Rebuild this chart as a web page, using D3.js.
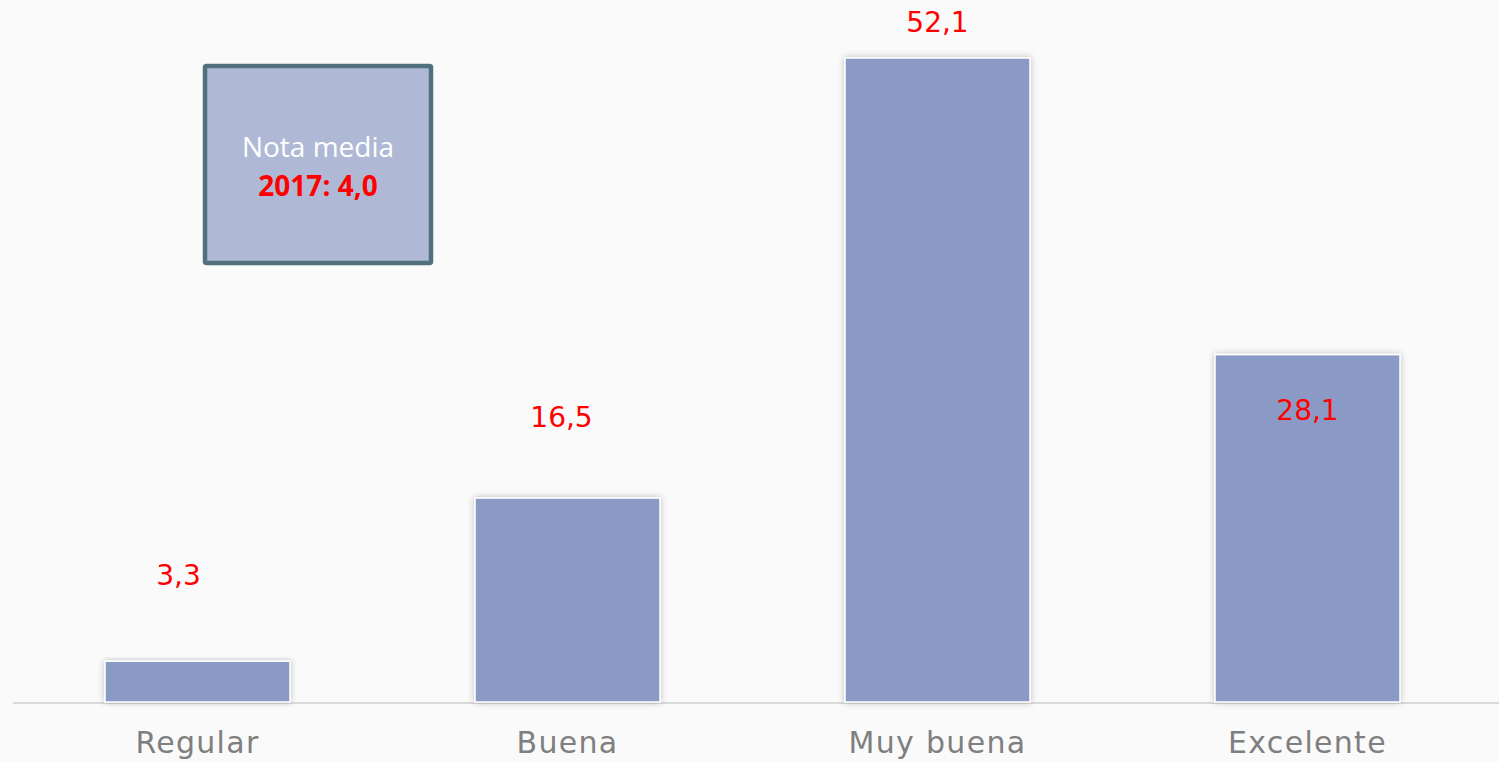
<!DOCTYPE html>
<html>
<head>
<meta charset="utf-8">
<script src="https://cdn.jsdelivr.net/npm/d3@7"></script>
<style>
  html, body { margin: 0; padding: 0; background: #fafafa; }
  svg { display: block; }
</style>
</head>
<body>
<svg id="chart" width="1499" height="762"></svg>
<script>
// Valoración: porcentaje de respuestas por categoría
const categories = ["Regular", "Buena", "Muy buena", "Excelente"];
const values = [3.3, 16.5, 52.1, 28.1];
const valueLabels = ["3,3", "16,5", "52,1", "28,1"];
const noteLines = ["Nota media", "2017: 4,0"];

// Desplazamiento de cada etiqueta respecto al centro/extremo de su barra
const labelOffset = {
  "Regular":   { dx: -19, dy: -86 },
  "Buena":     { dx: -6,  dy: -81 },
  "Muy buena": { dx: 0,   dy: -36 },
  "Excelente": { dx: 0,   dy: 56 }
};

const W = 1499, H = 762;
const svg = d3.select("#chart");

const x = d3.scaleBand().domain(categories).range([12.5, 1492.5])
  .paddingInner(0.5).paddingOuter(0.25);
const y = d3.scaleLinear().domain([0, 52.1]).range([702, 58]);

// sombra suave de las barras
const defs = svg.append("defs");
const f = defs.append("filter").attr("id", "shadow")
  .attr("x", "-10%").attr("y", "-10%").attr("width", "120%").attr("height", "120%");
f.append("feDropShadow").attr("dx", 0).attr("dy", 0).attr("stdDeviation", 3)
  .attr("flood-color", "#000").attr("flood-opacity", 0.25);

// eje base
svg.append("line")
  .attr("x1", 13).attr("x2", W).attr("y1", y(0) + 1).attr("y2", y(0) + 1)
  .attr("stroke", "#d9d9d9").attr("stroke-width", 2);

// barras
svg.append("g").selectAll("rect").data(categories).join("rect")
  .attr("x", d => x(d))
  .attr("y", (d, i) => y(values[i]))
  .attr("width", x.bandwidth())
  .attr("height", (d, i) => y(0) - y(values[i]))
  .attr("fill", "#8a9ac4")
  .attr("stroke", "#ffffff").attr("stroke-width", 1.5)
  .attr("filter", "url(#shadow)");

// etiquetas de valor
svg.append("g").selectAll("text").data(categories).join("text")
  .attr("x", d => x(d) + x.bandwidth() / 2 + labelOffset[d].dx)
  .attr("y", (d, i) => y(values[i]) + labelOffset[d].dy)
  .attr("text-anchor", "middle")
  .attr("dominant-baseline", "central")
  .attr("font-family", "'DejaVu Sans', sans-serif")
  .attr("font-size", 28)
  .attr("fill", "#ff0000")
  .text((d, i) => valueLabels[i]);

// etiquetas de categoría
svg.append("g").selectAll("text").data(categories).join("text")
  .attr("x", d => x(d) + x.bandwidth() / 2)
  .attr("y", 742)
  .attr("text-anchor", "middle")
  .attr("dominant-baseline", "central")
  .attr("font-family", "'DejaVu Sans', sans-serif")
  .attr("font-size", 30)
  .attr("letter-spacing", 1.3)
  .attr("fill", "#7f7f7f")
  .text(d => d);

// recuadro de nota media
const box = svg.append("g");
box.append("rect")
  .attr("x", 205).attr("y", 66).attr("width", 226).attr("height", 197)
  .attr("fill", "#afb9d6").attr("stroke", "#50707e").attr("stroke-width", 4.5)
  .attr("rx", 1.5);
box.append("text")
  .attr("x", 318).attr("y", 146)
  .attr("text-anchor", "middle").attr("dominant-baseline", "central")
  .attr("font-family", "'Open Sans', 'Liberation Sans', sans-serif")
  .attr("font-size", 28).attr("fill", "#ffffff")
  .text(noteLines[0]);
box.append("text")
  .attr("x", 318).attr("y", 185)
  .attr("text-anchor", "middle").attr("dominant-baseline", "central")
  .attr("font-family", "'Open Sans', 'Liberation Sans', sans-serif")
  .attr("font-size", 28).attr("font-weight", "bold").attr("fill", "#ff0000")
  .text(noteLines[1]);
</script>
</body>
</html>
